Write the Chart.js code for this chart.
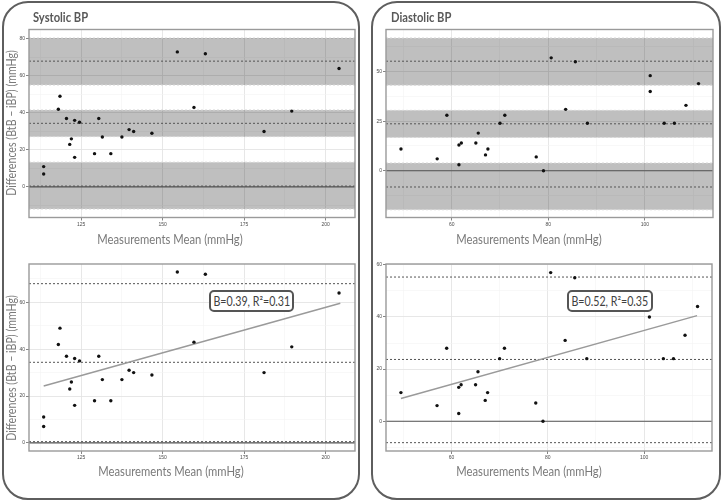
<!DOCTYPE html>
<html><head><meta charset="utf-8">
<script src="https://cdn.jsdelivr.net/npm/chart.js@4.4.1/dist/chart.umd.min.js"></script>
<style>
html,body{margin:0;padding:0;background:#fff;}
#root{position:relative;width:723px;height:502px;overflow:hidden;font-family:Lato,'Open Sans',sans-serif;}
.panel{position:absolute;border:2.5px solid #5e5e5e;border-radius:26px;box-sizing:border-box;z-index:0;}
canvas{position:absolute;z-index:1;}
.txt{position:absolute;white-space:nowrap;z-index:10;}
.title{font-weight:bold;font-size:13px;color:#595959;transform-origin:0 50%;transform:scaleX(0.86);}
.xt{font-size:13px;color:#7a7a7a;transform:translate(-50%,-50%) scaleX(0.865);}
.yt{font-size:12.5px;color:#7a7a7a;transform:translate(-50%,-50%) rotate(-90deg) scaleX(0.85);}
.lab{border:2px solid #555;border-radius:5px;background:#fff;font-size:13px;color:#404040;box-sizing:border-box;display:flex;align-items:center;justify-content:center;overflow:visible;}
.lab span{display:inline-block;transform:scaleX(0.82);}
</style></head>
<body><div id="root">
<div class="panel" style="left:2px;top:1px;width:358px;height:499px;"></div>
<div class="panel" style="left:371px;top:1px;width:350px;height:499px;"></div>
<canvas id="st"></canvas><canvas id="sb"></canvas><canvas id="dt"></canvas><canvas id="db"></canvas>
<div class="txt title" style="left:33px;top:9px;">Systolic BP</div>
<div class="txt title" style="left:391px;top:9px;">Diastolic BP</div>
<div class="txt xt" style="left:170px;top:239px;">Measurements Mean (mmHg)</div>
<div class="txt xt" style="left:171px;top:471px;">Measurements Mean (mmHg)</div>
<div class="txt xt" style="left:529px;top:239px;">Measurements Mean (mmHg)</div>
<div class="txt xt" style="left:529px;top:471px;">Measurements Mean (mmHg)</div>
<div class="txt yt" style="left:11px;top:123px;">Differences (BtB – iBP) (mmHg)</div>
<div class="txt yt" style="left:11px;top:368px;">Differences (BtB – iBP) (mmHg)</div>
<div class="txt lab" style="left:209px;top:290px;width:85px;height:22px;"><span>B=0.39, R²=0.31</span></div>
<div class="txt lab" style="left:567px;top:290px;width:86px;height:22px;"><span>B=0.52, R²=0.35</span></div>
</div>
<script>
// ---- data ----
const sysX = [113.5,113.5,118.5,118.0,120.5,123.0,124.5,122.0,121.5,123.0,129.1,130.4,131.5,134.1,137.5,139.7,141.1,146.7,154.5,159.6,163.1,181.1,189.6,204.1];
const sysY = [11,7,49,42,37,36,35,26,23,16,18,37,27,18,27,31,30,29,73,43,72,30,41,64];
const diaX = [49.5,57.0,59.0,61.5,62.0,61.5,65.0,65.5,67.0,67.5,70.0,71.0,77.5,79.0,80.6,83.6,85.6,88.1,101.1,101.1,104.0,106.1,108.5,111.1];
const diaY = [11,6,28,13,14,3,14,19,8,11,24,28,7,0,57,31,55,24,48,40,24,24,33,44];
// limits of agreement [upper, mean, lower] and their confidence bands
const sysLines = [68.0,34.4,0.5];
const sysBandLo = [55.1,27.2,-11.9];
const sysBandHi = [80.5,41.6,13.4];
const diaLines = [55.3,23.7,-8.2];
const diaBandLo = [43.2,16.8,-19.7];
const diaBandHi = [67.0,30.5,3.9];
const sysFitX = [113.5,204.5], sysFitY = [24.3,59.6];
const diaFitX = [49.5,111.0], diaFitY = [8.7,40.5];
// ticks
const sysXTicks = [125,150,175,200], sysXMinor = [112.5,137.5,162.5,187.5];
const diaXTicks = [60,80,100], diaXMinor = [50,70,90,110];
const sysYTopTicks = [0,20,40,60,80], sysYTopMinor = [-10,10,30,50,70];
const sysYBotTicks = [0,20,40,60], sysYBotMinor = [10,30,50,70];
const diaYTopTicks = [0,25,50], diaYTopMinor = [-12.5,12.5,37.5,62.5];
const diaYBotTicks = [0,20,40,60], diaYBotMinor = [-10,10,30,50];
// axis ranges
const sysXRange = [109,209], diaXRange = [46.4,114.1];
const sysYTopRange = [-16.5,85.1], sysYBotRange = [-3.5,76.4];
const diaYTopRange = [-23.6,71.3], diaYBotRange = [-11.4,60.3];

const frame = {id:'frame', afterDatasetsDraw(chart){const {ctx,chartArea:a}=chart;ctx.save();ctx.strokeStyle='#9a9a9a';ctx.lineWidth=1.4;ctx.strokeRect(a.left,a.top,a.right-a.left,a.bottom-a.top);ctx.restore();}};

function axis(maj, min, range, fit){
  const isMaj = ctx => ctx && ctx.tick && maj.includes(ctx.tick.value);
  return {type:'linear', min:range[0], max:range[1],
    afterBuildTicks: s => { s.ticks = maj.concat(min).sort((a,b)=>a-b).map(v=>({value:v})); },
    afterFit: fit,
    grid:{color: c => isMaj(c)?'#e4e4e4':'#f3f3f3', lineWidth: c => isMaj(c)?0.9:0.6,
          tickColor: c => isMaj(c)?'#666':'rgba(0,0,0,0)', tickLength:3, tickWidth:0.8},
    border:{display:false},
    ticks:{autoSkip:false, maxRotation:0, padding:1, color:'#4d4d4d', font:{size:5,family:'Liberation Sans'},
           callback: v => maj.includes(v) ? String(v) : ''}
  };
}
function pts(xs, ys){ return xs.map((x,i)=>({x:x,y:ys[i]})); }
function hline(v, xr, color, dash, w){ return {data:[{x:xr[0],y:v},{x:xr[1],y:v}], borderColor:color, borderWidth:w, borderDash:dash, pointRadius:0, fill:false, order:3}; }
function band(lo, hi, xr){ return {data:[{x:xr[0],y:hi},{x:xr[1],y:hi}], fill:{value:lo}, backgroundColor:'rgba(0,0,0,0.25)', borderWidth:0, pointRadius:0, order:10}; }

function build(id, box, plot, xr, yr, xMaj, xMin, yMaj, yMin, datasets){
  const c = document.getElementById(id);
  c.width = box.w; c.height = box.h; c.style.left = box.l+'px'; c.style.top = box.t+'px';
  const yW = plot.l-box.l, padT = plot.t-box.t, padR = box.l+box.w-plot.r, xH = box.t+box.h-plot.b;
  new Chart(c, {type:'line', data:{datasets:datasets},
    options:{responsive:false, animation:false, devicePixelRatio:1,
      layout:{padding:{left:0,top:padT,right:padR,bottom:0}},
      plugins:{legend:{display:false}, tooltip:{enabled:false}},
      scales:{x:axis(xMaj,xMin,xr,s=>{s.height=xH;}), y:axis(yMaj,yMin,yr,s=>{s.width=yW;})}},
    plugins:[frame]});
}

function topSets(xs, ys, lines, lo, hi, xr){
  const d = [];
  for (let i=0;i<lines.length;i++){
    d.push(band(lo[i],hi[i],xr));
    d.push(hline(lo[i],xr,'#d6d6d6',[2,2],1));
    d.push(hline(hi[i],xr,'#d6d6d6',[2,2],1));
    d.push(hline(lines[i],xr,'#555',[2,2],1));
  }
  d.push(hline(0,xr,'#555',[],1.2));
  d.push({data:pts(xs,ys), showLine:false, pointRadius:1.7, pointBackgroundColor:'#111', pointBorderWidth:0, order:0});
  return d;
}
function botSets(xs, ys, lines, fx, fy, xr){
  const d = [];
  for (let i=0;i<lines.length;i++) d.push(hline(lines[i],xr,'#555',[2,2],1));
  d.push(hline(0,xr,'#555',[],1.2));
  d.push({data:pts(fx,fy), borderColor:'#9a9a9a', borderWidth:1.5, pointRadius:0, fill:false, order:2});
  d.push({data:pts(xs,ys), showLine:false, pointRadius:1.7, pointBackgroundColor:'#111', pointBorderWidth:0, order:0});
  return d;
}

build('st',{l:4,t:22,w:356,h:228},{l:29,t:29.5,r:355,b:217.5},sysXRange,sysYTopRange,sysXTicks,sysXMinor,sysYTopTicks,sysYTopMinor,
  topSets(sysX,sysY,sysLines,sysBandLo,sysBandHi,sysXRange));
build('sb',{l:4,t:255,w:356,h:228},{l:29,t:264,r:355,b:451},sysXRange,sysYBotRange,sysXTicks,sysXMinor,sysYBotTicks,sysYBotMinor,
  botSets(sysX,sysY,sysLines,sysFitX,sysFitY,sysXRange));
build('dt',{l:373,t:22,w:345,h:228},{l:386,t:29.5,r:713,b:217.5},diaXRange,diaYTopRange,diaXTicks,diaXMinor,diaYTopTicks,diaYTopMinor,
  topSets(diaX,diaY,diaLines,diaBandLo,diaBandHi,diaXRange));
build('db',{l:373,t:255,w:345,h:228},{l:386,t:264,r:712,b:451},diaXRange,diaYBotRange,diaXTicks,diaXMinor,diaYBotTicks,diaYBotMinor,
  botSets(diaX,diaY,diaLines,diaFitX,diaFitY,diaXRange));
</script>
</body></html>
